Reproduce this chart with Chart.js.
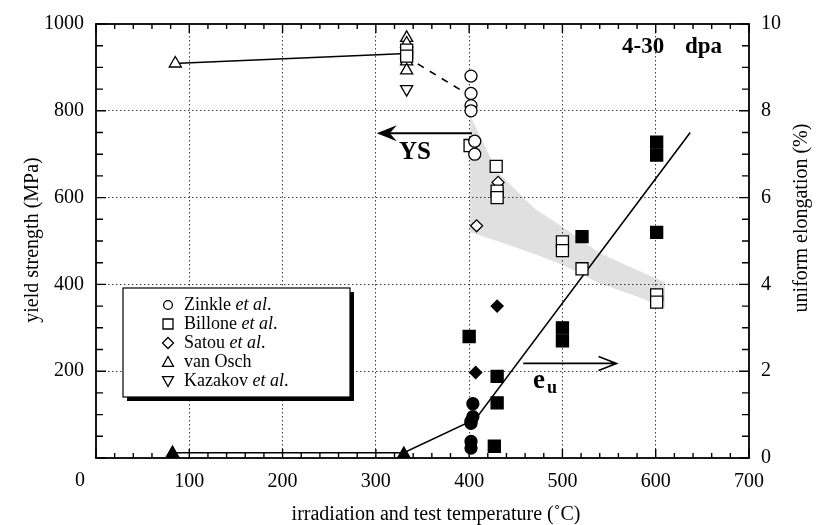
<!DOCTYPE html>
<html>
<head>
<meta charset="utf-8">
<script src="https://cdn.jsdelivr.net/npm/chart.js@4/dist/chart.umd.min.js"></script>
<style>
  html, body { margin: 0; padding: 0; background: #fff; }
  #wrap { width: 817px; height: 525px; }
</style>
</head>
<body>
<div id="wrap"><canvas id="chart" width="817" height="525"></canvas></div>
<script>
/* ─── Data ──────────────────────────────────────────────────────────────── */
const xTicks  = [0, 100, 200, 300, 400, 500, 600, 700];
const ysTicks = [0, 200, 400, 600, 800, 1000];
const euTicks = [0, 2, 4, 6, 8, 10];

// yield strength (MPa), open symbols
const zinkleYsT = [402, 402, 402, 402, 406, 406];
const zinkleYs  = [880, 840, 812, 800, 730, 700];
const billoneYsT = [333, 333, 401, 429, 430, 430, 500, 500, 521, 601, 601];
const billoneYs  = [940, 926, 720, 672, 615, 600, 498, 478, 436, 376, 359];
const satouYsT = [408, 431];
const satouYs  = [535, 635];
const vanOschYsT = [85, 333, 333, 333, 333, 333];
const vanOschYs  = [909, 968, 955, 930, 914, 893];
const kazakovYsT = [333];
const kazakovYs  = [850];

// uniform elongation (%), filled symbols
const zinkleEuT = [404, 404, 402, 402, 402, 402];
const zinkleEu  = [1.25, 0.95, 0.85, 0.8, 0.38, 0.23];
const billoneEuT = [400, 427, 430, 430, 500, 500, 521, 601, 601, 601];
const billoneEu  = [2.8, 0.27, 1.88, 1.27, 3.0, 2.7, 5.1, 7.28, 6.98, 5.2];
const satouEuT = [407, 430];
const satouEu  = [1.97, 3.5];
const vanOschEuT = [82, 330];
const vanOschEu  = [0.1, 0.08];

// trend lines
const ysFitT  = [83, 333];
const ysFit   = [909, 932];
const ysDashT = [345, 397];
const ysDash  = [908, 840];
const euFitT  = [82, 330, 407, 637];
const euFit   = [0.12, 0.12, 0.9, 7.5];

// shaded yield-strength band
const bandT     = [401, 430, 470, 500, 540, 580, 610];
const bandUpper = [790, 660, 575, 533, 472, 433, 405];
const bandLower = [520, 500, 470, 445, 402, 372, 345];

/* ─── Helpers ───────────────────────────────────────────────────────────── */
const SERIF = "'Liberation Serif', 'Times New Roman', serif";
const pts = (xs, ys) => xs.map((x, i) => ({ x, y: ys[i] }));

function marks(xs, ys, style, filled, r, axis, rot) {
  return {
    data: pts(xs, ys),
    yAxisID: axis,
    showLine: false,
    pointStyle: style,
    rotation: rot || 0,
    pointRadius: r,
    pointBackgroundColor: filled ? '#000' : '#fff',
    pointBorderColor: '#000',
    pointBorderWidth: 1.3,
    order: 1
  };
}

function line(xs, ys, axis, dash) {
  return {
    data: pts(xs, ys),
    yAxisID: axis,
    showLine: true,
    borderColor: '#000',
    borderWidth: 1.6,
    borderDash: dash || [],
    pointRadius: 0,
    fill: false,
    order: 5
  };
}

function symbol(ctx, kind, x, y, s) {
  ctx.beginPath();
  if (kind === 'circle') ctx.arc(x, y, s * 0.8, 0, Math.PI * 2);
  if (kind === 'rect') ctx.rect(x - s, y - s, 2 * s, 2 * s);
  if (kind === 'diamond') { ctx.moveTo(x, y - s); ctx.lineTo(x + s, y); ctx.lineTo(x, y + s); ctx.lineTo(x - s, y); ctx.closePath(); }
  if (kind === 'up') { ctx.moveTo(x, y - s); ctx.lineTo(x + s, y + s * 0.8); ctx.lineTo(x - s, y + s * 0.8); ctx.closePath(); }
  if (kind === 'down') { ctx.moveTo(x, y + s); ctx.lineTo(x + s, y - s * 0.8); ctx.lineTo(x - s, y - s * 0.8); ctx.closePath(); }
  ctx.stroke();
}

/* ─── Frame, inward ticks, labels, legend ───────────────────────────────── */
const decor = {
  id: 'decor',
  afterDraw(chart) {
    const { ctx, chartArea: a, scales: { x, y, y2 } } = chart;
    ctx.save();
    ctx.strokeStyle = '#000';
    ctx.fillStyle = '#000';

    // inward ticks
    ctx.lineWidth = 1.4;
    ctx.beginPath();
    for (let v = 0; v <= 700; v += 20) {
      const px = x.getPixelForValue(v);
      const len = v % 100 === 0 ? 9 : 5;
      ctx.moveTo(px, a.bottom); ctx.lineTo(px, a.bottom - len);
      ctx.moveTo(px, a.top);    ctx.lineTo(px, a.top + len);
    }
    for (let v = 0; v <= 1000; v += 50) {
      const py = y.getPixelForValue(v);
      const len = v % 200 === 0 ? 10 : 7;
      ctx.moveTo(a.left, py); ctx.lineTo(a.left + len, py);
    }
    for (let v = 0; v <= 10; v += 0.5) {
      const py = y2.getPixelForValue(v);
      const len = v % 2 === 0 ? 10 : 7;
      ctx.moveTo(a.right, py); ctx.lineTo(a.right - len, py);
    }
    ctx.stroke();

    ctx.lineWidth = 1.8;
    ctx.strokeRect(a.left, a.top, a.right - a.left, a.bottom - a.top);

    // axis titles
    ctx.font = `20px ${SERIF}`;
    ctx.textAlign = 'center';
    ctx.textBaseline = 'middle';
    ctx.fillText('irradiation and test temperature (˚C)', 436, 515);
    ctx.fillText('0', 80, 481);
    ctx.save();
    ctx.translate(33, 240); ctx.rotate(-Math.PI / 2);
    ctx.fillText('yield strength (MPa)', 0, 0);
    ctx.restore();
    ctx.save();
    ctx.translate(802, 218); ctx.rotate(-Math.PI / 2);
    ctx.fillText('uniform elongation (%)', 0, 0);
    ctx.restore();

    // "4-30 dpa"
    ctx.font = `bold 23px ${SERIF}`;
    ctx.textAlign = 'left';
    ctx.fillText('4-30', 622, 47);
    ctx.fillText('dpa', 685, 47);

    // YS arrow (pointing left, to yield strength axis)
    const ay = y.getPixelForValue(748);
    const ax0 = x.getPixelForValue(403), ax1 = x.getPixelForValue(301);
    ctx.lineWidth = 2;
    ctx.beginPath(); ctx.moveTo(ax0, ay); ctx.lineTo(ax1 + 8, ay); ctx.stroke();
    ctx.beginPath();
    ctx.moveTo(ax1, ay); ctx.lineTo(ax1 + 20, ay - 8); ctx.lineTo(ax1 + 13, ay);
    ctx.lineTo(ax1 + 20, ay + 8); ctx.closePath(); ctx.fill();
    ctx.font = `bold 25px ${SERIF}`;
    ctx.textAlign = 'center';
    ctx.fillText('YS', x.getPixelForValue(342), y.getPixelForValue(703));

    // e_u arrow (pointing right, to elongation axis)
    const ey = y2.getPixelForValue(2.18);
    const ex0 = x.getPixelForValue(458), ex1 = x.getPixelForValue(558);
    ctx.lineWidth = 1.6;
    ctx.beginPath();
    ctx.moveTo(ex0, ey); ctx.lineTo(ex1, ey);
    ctx.moveTo(ex1 - 18, ey - 7); ctx.lineTo(ex1, ey); ctx.lineTo(ex1 - 18, ey + 7);
    ctx.stroke();
    ctx.font = `bold 27px ${SERIF}`;
    ctx.textAlign = 'left';
    ctx.textBaseline = 'alphabetic';
    ctx.fillText('e', 533, 388);
    ctx.font = `bold 18px ${SERIF}`;
    ctx.fillText('u', 547, 393);

    // legend box with shadow
    ctx.fillRect(127, 292, 227, 109);
    ctx.fillStyle = '#fff';
    ctx.fillRect(123, 288, 227, 109);
    ctx.lineWidth = 1.2;
    ctx.strokeRect(123, 288, 227, 109);
    ctx.fillStyle = '#000';
    const rows = [
      ['circle', 'Zinkle ', 'et al', '.'],
      ['rect', 'Billone ', 'et al', '.'],
      ['diamond', 'Satou ', 'et al', '.'],
      ['up', 'van Osch', '', ''],
      ['down', 'Kazakov ', 'et al', '.']
    ];
    ctx.textBaseline = 'middle';
    rows.forEach((r, i) => {
      const ry = 305 + i * 19;
      ctx.lineWidth = 1.3;
      symbol(ctx, r[0], 168, ry, r[0] === 'rect' ? 5 : 5.5);
      let tx = 184;
      ctx.font = `18px ${SERIF}`;
      ctx.fillText(r[1], tx, ry);
      tx += ctx.measureText(r[1]).width;
      ctx.font = `italic 18px ${SERIF}`;
      ctx.fillText(r[2], tx, ry);
      tx += ctx.measureText(r[2]).width;
      ctx.font = `18px ${SERIF}`;
      ctx.fillText(r[3], tx, ry);
    });

    ctx.restore();
  }
};

/* ─── Chart ─────────────────────────────────────────────────────────────── */
const tickFont = { family: SERIF, size: 20 };
const gridColor = (lo, hi) => c => (c.tick.value > lo && c.tick.value < hi) ? 'rgba(0,0,0,0.75)' : 'rgba(0,0,0,0)';

new Chart(document.getElementById('chart'), {
  type: 'scatter',
  data: {
    datasets: [
      // shaded band (upper filled down to lower)
      { data: pts(bandT, bandUpper), yAxisID: 'y', showLine: true, borderWidth: 0, borderColor: 'rgba(0,0,0,0)',
        pointRadius: 0, fill: '+1', backgroundColor: 'rgba(0,0,0,0.12)', order: 10 },
      { data: pts(bandT, bandLower), yAxisID: 'y', showLine: true, borderWidth: 0, borderColor: 'rgba(0,0,0,0)',
        pointRadius: 0, fill: false, order: 10 },

      line(ysFitT, ysFit, 'y'),
      line(ysDashT, ysDash, 'y', [7, 7]),
      line(euFitT, euFit, 'y2'),

      marks(zinkleYsT, zinkleYs, 'circle', false, 6, 'y'),
      marks(billoneYsT, billoneYs, 'rect', false, 8.5, 'y'),
      marks(satouYsT, satouYs, 'rectRot', false, 6, 'y'),
      marks(vanOschYsT, vanOschYs, 'triangle', false, 7, 'y'),
      marks(kazakovYsT, kazakovYs, 'triangle', false, 7, 'y', 180),

      marks(zinkleEuT, zinkleEu, 'circle', true, 6, 'y2'),
      marks(billoneEuT, billoneEu, 'rect', true, 8.5, 'y2'),
      marks(satouEuT, satouEu, 'rectRot', true, 6, 'y2'),
      marks(vanOschEuT, vanOschEu, 'triangle', true, 7.5, 'y2')
    ]
  },
  options: {
    responsive: false,
    animation: false,
    events: [],
    layout: { padding: { top: 17, left: 0, right: 0, bottom: 0 } },
    plugins: { legend: { display: false }, tooltip: { enabled: false } },
    scales: {
      x: {
        type: 'linear', min: 0, max: 700,
        afterFit: s => { s.height = 67; },
        afterBuildTicks: s => { s.ticks = xTicks.map(v => ({ value: v })); },
        ticks: { font: tickFont, color: '#000', padding: 12, maxRotation: 0,
                 callback: v => v === 0 ? '' : String(v) },
        grid: { drawTicks: false, color: gridColor(0, 700), lineWidth: 1 },
        border: { display: false, dash: [1.5, 2.5] }
      },
      y: {
        position: 'left', min: 0, max: 1000,
        afterFit: s => { s.width = 96; },
        afterBuildTicks: s => { s.ticks = ysTicks.map(v => ({ value: v })); },
        ticks: { font: tickFont, color: '#000', padding: 12,
                 callback: v => v === 0 ? '' : String(v) },
        grid: { drawTicks: false, color: gridColor(0, 1000), lineWidth: 1 },
        border: { display: false, dash: [1.5, 2.5] }
      },
      y2: {
        position: 'right', min: 0, max: 10,
        afterFit: s => { s.width = 68; },
        afterBuildTicks: s => { s.ticks = euTicks.map(v => ({ value: v })); },
        ticks: { font: tickFont, color: '#000', padding: 12 },
        grid: { display: false, drawTicks: false },
        border: { display: false }
      }
    }
  },
  plugins: [decor]
});
</script>
</body>
</html>
